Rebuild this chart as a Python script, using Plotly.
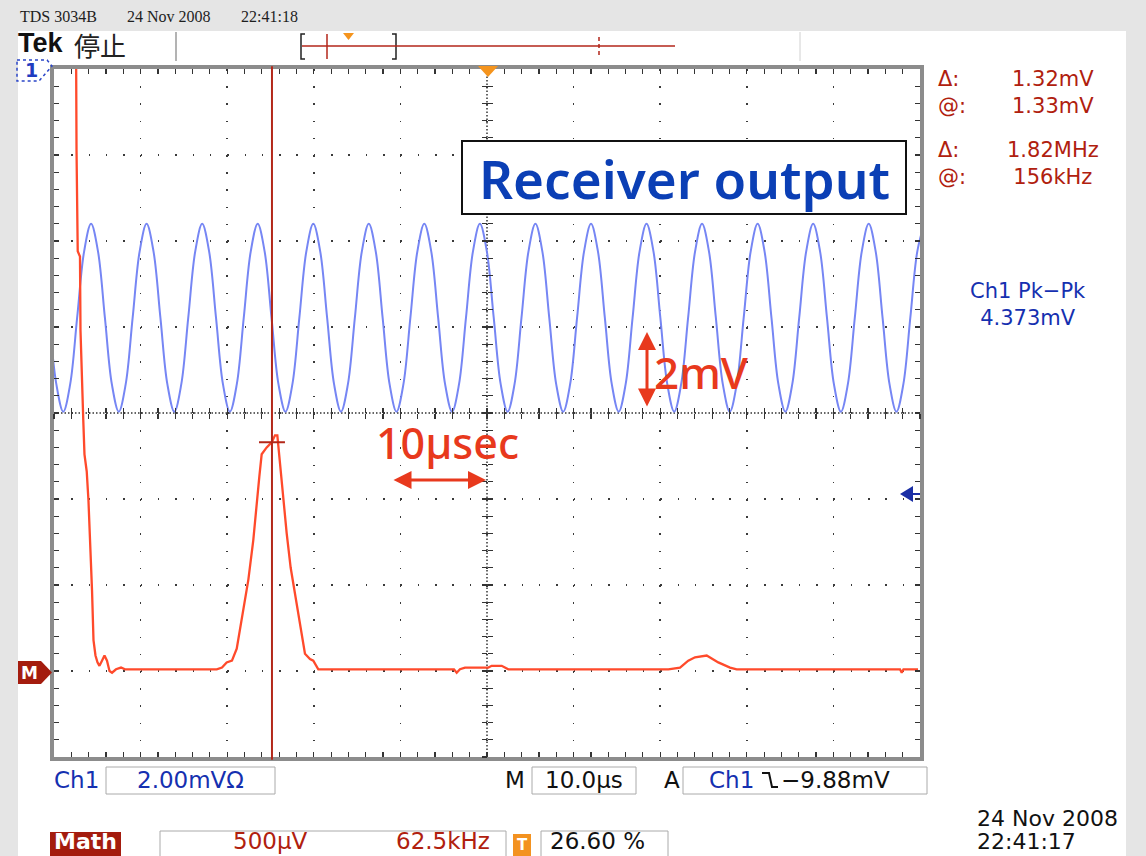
import plotly.graph_objects as go

# ---- Ch1 (receiver output): time in µs from trigger, level in mV (2.00 mV/div)
ch1_t = [
    -50.53, -49.73,
    -48.93, -48.13, -47.33, -46.52, -45.72, -44.92, -44.12, -43.32,
    -42.52, -41.72, -40.92, -40.11, -39.31, -38.51, -37.71, -36.91,
    -36.10, -35.30, -34.50, -33.69, -32.89, -32.09, -31.29, -30.49,
    -29.69, -28.89, -28.09, -27.28, -26.48, -25.68, -24.88, -24.08,
    -23.27, -22.47, -21.67, -20.86, -20.06, -19.26, -18.46, -17.66,
    -16.86, -16.06, -15.26, -14.45, -13.65, -12.85, -12.05, -11.25,
    -10.45, -9.65, -8.85, -8.04, -7.24, -6.44, -5.64, -4.84,
    -4.03, -3.23, -2.43, -1.62, -0.82, -0.02, 0.78, 1.58,
    2.38, 3.18, 3.98, 4.79, 5.59, 6.39, 7.19, 7.99,
    8.80, 9.60, 10.40, 11.21, 12.01, 12.81, 13.61, 14.41,
    15.21, 16.01, 16.81, 17.62, 18.42, 19.22, 20.02, 20.82,
    21.62, 22.42, 23.22, 24.03, 24.83, 25.63, 26.43, 27.23,
    28.04, 28.84, 29.64, 30.45, 31.25, 32.05, 32.85, 33.65,
    34.45, 35.25, 36.05, 36.86, 37.66, 38.46, 39.26, 40.06,
    40.87, 41.67, 42.47, 43.28, 44.08, 44.88, 45.68, 46.48,
    47.28, 48.08, 48.88, 49.69, 50.49,
]
ch1_mv = [
    2.21, 0.67,
    0.03, 0.67, 2.21, 3.76, 4.40, 3.76, 2.21, 0.67,
    0.03, 0.67, 2.21, 3.76, 4.40, 3.76, 2.21, 0.67,
    0.03, 0.67, 2.21, 3.76, 4.40, 3.76, 2.21, 0.67,
    0.03, 0.67, 2.21, 3.76, 4.40, 3.76, 2.21, 0.67,
    0.03, 0.67, 2.21, 3.76, 4.40, 3.76, 2.21, 0.67,
    0.03, 0.67, 2.21, 3.76, 4.40, 3.76, 2.21, 0.67,
    0.03, 0.67, 2.21, 3.76, 4.40, 3.76, 2.21, 0.67,
    0.03, 0.67, 2.21, 3.76, 4.40, 3.76, 2.21, 0.67,
    0.03, 0.67, 2.21, 3.76, 4.40, 3.76, 2.21, 0.67,
    0.03, 0.67, 2.21, 3.76, 4.40, 3.76, 2.21, 0.67,
    0.03, 0.67, 2.21, 3.76, 4.40, 3.76, 2.21, 0.67,
    0.03, 0.67, 2.21, 3.76, 4.40, 3.76, 2.21, 0.67,
    0.03, 0.67, 2.21, 3.76, 4.40, 3.76, 2.21, 0.67,
    0.03, 0.67, 2.21, 3.76, 4.40, 3.76, 2.21, 0.67,
    0.03, 0.67, 2.21, 3.76, 4.40, 3.76, 2.21, 0.67,
    0.03, 0.67, 2.21, 3.76, 4.40,
]

# ---- Math trace: time in µs, level in mV (500 µV/div)
math_t = [
    -47.46, -47.40, -47.26, -47.00, -46.94, -46.77, -46.62, -46.48, -46.22,
    -46.02, -45.79, -45.61, -45.44, -45.21, -44.98, -44.75, -44.46, -44.17,
    -43.88, -43.59, -43.30, -42.84, -42.26, -41.80,
    -31.21, -30.60, -30.06, -29.45, -28.90, -28.52, -28.06, -27.56, -26.99,
    -26.59, -26.29, -26.02, -25.44, -24.86, -24.48, -24.21, -23.98, -23.59,
    -23.13, -22.67, -22.17, -21.59, -21.02, -20.44, -20.06, -19.48,
    -3.81, -3.50, -3.12, -2.54, 0.15, 0.54, 1.70, 2.46,
    20.94, 22.29, 23.24, 24.02, 25.37, 26.71, 28.06, 28.83,
    47.69, 47.89, 48.09, 49.77,
]
math_mv = [
    3.73, 3.03, 2.44, 2.41, 1.98, 1.62, 1.46, 1.26, 1.16,
    0.99, 0.72, 0.47, 0.18, 0.09, 0.05, 0.03, 0.06, 0.09,
    0.06, 0.00, -0.01, 0.01, 0.02, 0.01,
    0.01, 0.02, 0.05, 0.06, 0.13, 0.24, 0.37, 0.53, 0.76,
    0.99, 1.13, 1.26, 1.30, 1.33, 1.37, 1.37, 1.24, 1.03,
    0.80, 0.60, 0.45, 0.26, 0.10, 0.07, 0.06, 0.01,
    0.01, -0.01, 0.01, 0.02, 0.02, 0.03, 0.03, 0.01,
    0.01, 0.02, 0.06, 0.08, 0.09, 0.05, 0.02, 0.01,
    0.01, -0.01, 0.01, 0.01,
]

# cursor readouts
cursor_t = -24.83      # vertical bar position (µs)
cursor_mv = 1.33       # horizontal bar level on the math trace (mV)

# ---- page geometry (pixels) ----------------------------------------------
W, H = 1146, 856
PL, PR, PT, PB = 54, 920, 69, 757

SANS = "DejaVu Sans"
SERIF = "Liberation Serif"
DRED = "#b0200e"
BLUE = "#1530b0"
RED = "#e8391d"


def fx(x):
    return (x - PL) / (PR - PL)


def fy(y):
    return (PB - y) / (PB - PT)


shapes = []
anns = []


def rect(x0, y0, x1, y1, fill=None, line=None, width=1, layer="above"):
    shapes.append(dict(
        type="rect", xref="paper", yref="paper",
        x0=fx(x0), x1=fx(x1), y0=fy(y1), y1=fy(y0),
        fillcolor=fill or "rgba(0,0,0,0)",
        line=dict(color=line or "rgba(0,0,0,0)", width=width if line else 0),
        layer=layer))


def seg(x0, y0, x1, y1, color, width=1.0, dash=None, layer="above"):
    ln = dict(color=color, width=width)
    if dash:
        ln["dash"] = dash
    shapes.append(dict(type="line", xref="paper", yref="paper",
                       x0=fx(x0), y0=fy(y0), x1=fx(x1), y1=fy(y1),
                       line=ln, layer=layer))


def poly(pts, fill=None, color=None, width=1.0, dash=None, close=True):
    p = "M " + " L ".join(f"{fx(x):.5f},{fy(y):.5f}" for x, y in pts)
    if close:
        p += " Z"
    ln = dict(color=color or "rgba(0,0,0,0)", width=width if color else 0)
    if dash:
        ln["dash"] = dash
    shapes.append(dict(type="path", xref="paper", yref="paper", path=p,
                       fillcolor=fill or "rgba(0,0,0,0)", line=ln, layer="above"))


def text(x, y, s, size, color, family=SANS, anchor="left", weight="normal",
         vanchor="middle", align=None):
    anns.append(dict(x=fx(x), y=fy(y), xref="paper", yref="paper", text=s,
                     showarrow=False, xanchor=anchor, yanchor=vanchor,
                     align=align or ("left" if anchor == "left" else "center"),
                     font=dict(size=size, color=color, family=family, weight=weight)))


# ---- traces --------------------------------------------------------------
fig = go.Figure()
fig.add_trace(go.Scatter(
    x=ch1_t, y=ch1_mv, mode="lines", xaxis="x", yaxis="y",
    line=dict(color="#7686f4", width=2, shape="spline", smoothing=1.0),
    hoverinfo="skip", showlegend=False))
fig.add_trace(go.Scatter(
    x=math_t, y=math_mv, mode="lines", xaxis="x", yaxis="y4",
    line=dict(color="#ff4a2b", width=2.3),
    hoverinfo="skip", showlegend=False))
# anchors for the centre-line tick axes
for xa, ya in (("x2", "y"), ("x3", "y"), ("x", "y2"), ("x", "y3")):
    fig.add_trace(go.Scatter(x=[0], y=[0], xaxis=xa, yaxis=ya, mode="markers",
                             marker=dict(opacity=0), hoverinfo="skip",
                             showlegend=False))

# ---- graticule -----------------------------------------------------------
TICK = dict(ticklen=5, tickwidth=1.2, tickcolor="#333333")
fig.update_layout(
    xaxis=dict(range=[-50, 50], domain=[0, 1], showgrid=True, gridcolor="#3a3a3a",
               gridwidth=1.5, griddash="1.5px,15.7px", dtick=10, tick0=0,
               zeroline=False, showline=True, linecolor="#8c8c8c", linewidth=4,
               mirror="allticks", ticks="inside", showticklabels=False,
               minor=dict(dtick=2, tick0=0, ticks="inside", showgrid=False, **TICK),
               fixedrange=True, **TICK),
    yaxis=dict(range=[-8, 8], domain=[0, 1], showgrid=True, gridcolor="#3a3a3a",
               gridwidth=1.5, griddash="1.5px,15.82px", dtick=2, tick0=0,
               zeroline=False, showline=True, linecolor="#8c8c8c", linewidth=4,
               mirror="allticks", ticks="inside", showticklabels=False,
               minor=dict(dtick=0.4, tick0=0, ticks="inside", showgrid=False, **TICK),
               fixedrange=True, **TICK),
    xaxis2=dict(overlaying="x", anchor="free", position=0.5, range=[-50, 50],
                showgrid=False, zeroline=False, showline=False, ticks="outside",
                dtick=10, tick0=0, showticklabels=False,
                minor=dict(dtick=2, tick0=0, ticks="outside", **TICK), **TICK),
    xaxis3=dict(overlaying="x", anchor="free", position=0.5, range=[-50, 50],
                showgrid=False, zeroline=False, showline=False, ticks="inside",
                dtick=10, tick0=0, showticklabels=False,
                minor=dict(dtick=2, tick0=0, ticks="inside", **TICK), **TICK),
    yaxis2=dict(overlaying="y", anchor="free", position=0.5, range=[-8, 8],
                showgrid=False, zeroline=False, showline=False, ticks="outside",
                dtick=2, tick0=0, showticklabels=False,
                minor=dict(dtick=0.4, tick0=0, ticks="outside", **TICK), **TICK),
    yaxis3=dict(overlaying="y", anchor="free", position=0.5, range=[-8, 8],
                showgrid=False, zeroline=False, showline=False, ticks="inside",
                dtick=2, tick0=0, showticklabels=False,
                minor=dict(dtick=0.4, tick0=0, ticks="inside", **TICK), **TICK),
    yaxis4=dict(overlaying="y", anchor="x", range=[-0.5, 3.5], visible=False),
)

# page panels
rect(18, 31, 1126, 870, fill="white", layer="below")

# centre lines (dense dots)
shapes.append(dict(type="line", xref="x", yref="paper", x0=0, x1=0, y0=0, y1=1,
                   line=dict(color="#333333", width=1.5, dash="1.5px,2px"), layer="below"))
shapes.append(dict(type="line", xref="paper", yref="y", x0=0, x1=1, y0=0, y1=0,
                   line=dict(color="#333333", width=1.5, dash="1.5px,2px"), layer="below"))

# cursors
shapes.append(dict(type="line", xref="x", yref="paper", x0=cursor_t, x1=cursor_t,
                   y0=-0.004, y1=1.004, line=dict(color="#b3281a", width=2), layer="above"))
shapes.append(dict(type="line", xref="x", yref="y4", x0=cursor_t - 1.5, x1=cursor_t + 1.5,
                   y0=cursor_mv, y1=cursor_mv, line=dict(color="#b3281a", width=2),
                   layer="above"))

# trigger position / level markers
poly([(478, 66), (498, 66), (488, 77)], fill="#f5941d")
poly([(900, 494), (913, 486), (913, 502)], fill="#1b2fa5")
seg(912, 494, 920, 494, "#1b2fa5", 2)

# channel 1 reference marker (off-screen) and math reference marker
poly([(17, 60), (47, 60), (52, 66), (39, 81), (17, 81)], color="#2a45c8", width=1.5, dash="dot")
text(31, 70, "1", 19, "#1f3cc0", anchor="center", weight="bold")
poly([(18, 661), (41, 661), (52, 672.5), (41, 684), (18, 684)], fill="#a41c0e")
text(29.5, 673, "M", 17, "white", anchor="center", weight="bold")

# ---- header ---------------------------------------------------------------
text(18, 16.5, "TDS 3034B", 16, "#1e1e1e", SERIF)
text(125, 16.5, "24 Nov 2008", 16, "#1e1e1e", SERIF)
text(239, 16.5, "22:41:18", 16, "#1e1e1e", SERIF)
text(16, 43, "Tek", 27, "#111111", "Liberation Sans", weight="bold")
text(72, 44, "停止", 26, "#222222", "Noto Sans CJK JP")
seg(176, 32, 176, 61, "#9a9a9a", 1.5)
seg(800, 32, 800, 61, "#d0d0d0", 1)
poly([(305, 34), (301, 34), (301, 59), (305, 59)], color="#222222", width=1.5, close=False)
poly([(392, 34), (396, 34), (396, 59), (392, 59)], color="#222222", width=1.5, close=False)
seg(302, 46, 675, 46, "#b3261a", 1.5)
seg(327, 34, 327, 59, "#b3261a", 1.5)
seg(599, 37, 599, 57, "#b3261a", 1.5, dash="4px,3px")
poly([(343, 33), (354, 33), (348.5, 40)], fill="#f5941d")

# ---- cursor / measurement readouts ---------------------------------------
text(936, 93, "Δ:<br>@:", 21, DRED)
text(1053, 93, "1.32mV<br>1.33mV", 21, DRED, anchor="center")
text(936, 163, "Δ:<br>@:", 21, DRED)
text(1053, 163, "1.82MHz<br>156kHz", 21, DRED, anchor="center")
text(1028, 304, "Ch1 Pk−Pk<br>4.373mV", 21, BLUE, anchor="center")

# ---- callouts -------------------------------------------------------------
rect(462, 141, 906, 214, fill="white", line="#111111", width=2)
text(684, 179, "Receiver output", 53, "#0b3fb5", "Noto Sans", anchor="center", weight=600)
text(652, 372, "2mV", 44, RED, "Noto Sans", weight=500)
text(374, 442, "10µsec", 43, RED, "Noto Sans", weight=500)
anns.append(dict(x=fx(647), y=fy(332), xref="paper", yref="paper", ax=0, ay=76,
                 axref="pixel", ayref="pixel", text="", showarrow=True,
                 arrowhead=2, arrowside="end+start", arrowwidth=3, arrowsize=1.2,
                 arrowcolor=RED))
anns.append(dict(x=fx(486), y=fy(480), xref="paper", yref="paper", ax=-94, ay=0,
                 axref="pixel", ayref="pixel", text="", showarrow=True,
                 arrowhead=2, arrowside="end+start", arrowwidth=3, arrowsize=1.2,
                 arrowcolor=RED))

# ---- status bar -----------------------------------------------------------
text(52, 780, "Ch1", 23, BLUE)
rect(106, 767, 275, 794, line="#aaaaaa")
text(190, 780, "2.00mVΩ", 23, BLUE, anchor="center")
text(515, 780, "M", 23, "#111111", anchor="center")
rect(532, 767, 636, 794, line="#aaaaaa")
text(584, 780, "10.0µs", 23, "#111111", anchor="center")
text(672, 780, "A", 23, "#111111", anchor="center")
rect(683, 767, 927, 794, line="#aaaaaa")
text(731, 780, "Ch1", 23, BLUE, anchor="center")
poly([(762, 773), (769, 773), (772, 787), (778, 787)], color="#111111", width=2, close=False)
text(779, 780, "−9.88mV", 23, "#111111")

rect(50, 832, 121, 870, fill="#a41c0e")
text(85.5, 856, "Math", 22, "white", anchor="center", weight="bold", vanchor="bottom")
rect(160, 831, 506, 870, line="#aaaaaa")
text(270, 856, "500µV", 23, DRED, anchor="center", vanchor="bottom")
text(443, 856, "62.5kHz", 23, DRED, anchor="center", vanchor="bottom")
rect(513, 834, 531, 856, fill="#f39220")
text(522, 845, "T", 15, "white", anchor="center", weight="bold")
rect(541, 831, 668, 870, line="#aaaaaa")
text(597, 856, "26.60 %", 23, "#111111", anchor="center", vanchor="bottom")
text(975, 818, "24 Nov 2008", 22, "#111111")
text(975, 856, "22:41:17", 22, "#111111", vanchor="bottom")

fig.update_layout(
    width=W, height=H,
    margin=dict(l=PL, r=W - PR, t=PT, b=H - PB, pad=0),
    paper_bgcolor="#e5e5e5", plot_bgcolor="white",
    showlegend=False, hovermode=False,
    shapes=shapes, annotations=anns,
)

fig.write_html("out.html", config={"displayModeBar": False, "staticPlot": True})
